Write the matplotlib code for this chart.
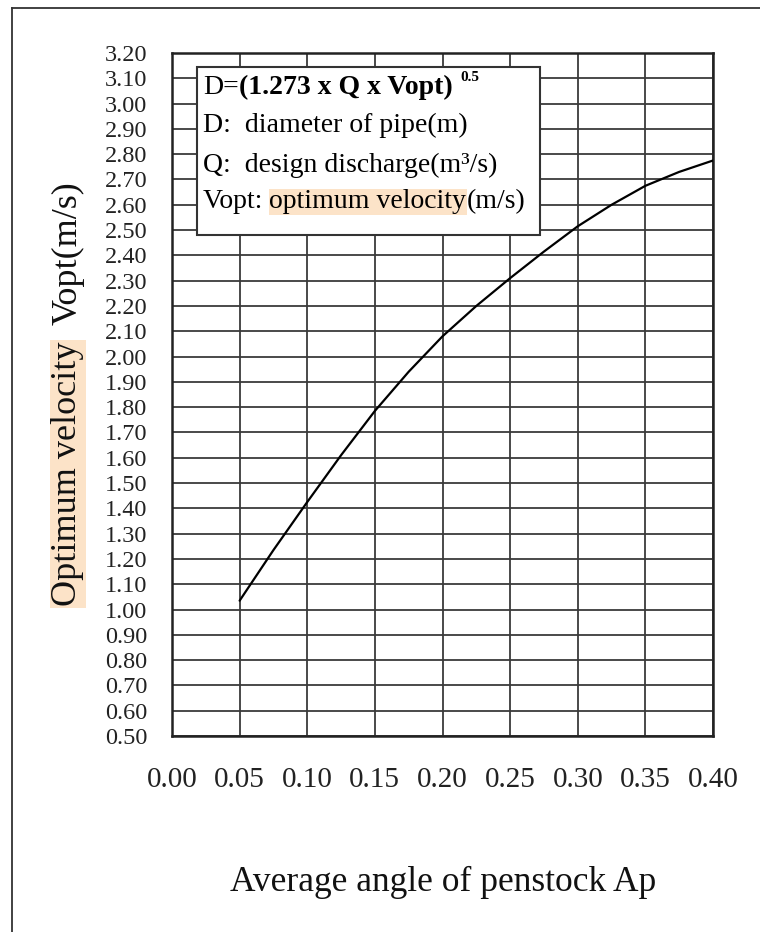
import numpy as np
import matplotlib
matplotlib.use('Agg')
import matplotlib.pyplot as plt
from matplotlib.lines import Line2D
from matplotlib.patches import Rectangle

# values
ap = [0.05, 0.075, 0.10, 0.125, 0.15, 0.175, 0.20, 0.225, 0.25,
      0.275, 0.30, 0.325, 0.35, 0.375, 0.40]
vopt = [1.035, 1.235, 1.425, 1.61, 1.785, 1.94, 2.08, 2.2, 2.31,
        2.415, 2.515, 2.6, 2.675, 2.73, 2.775]

x_ticks = [0.00, 0.05, 0.10, 0.15, 0.20, 0.25, 0.30, 0.35, 0.40]
y_ticks = [round(0.5 + 0.1 * i, 2) for i in range(28)]

formula = '(1.273 x Q x Vopt)'
legend_lines = ['D:  diameter of pipe(m)', 'Q:  design discharge(m\u00b3/s)']
x_title = 'Average angle of penstock Ap'

plt.rcParams['font.family'] = ['Liberation Serif', 'DejaVu Serif']
hl = '#fce3c8'

fig = plt.figure(figsize=(7.6, 9.32), dpi=100)
ax = fig.add_axes([172 / 760, 1 - 736 / 932, 541 / 760, 683 / 932])

ax.plot(ap, vopt, color='black', lw=1.6, zorder=3,
        solid_joinstyle='round', solid_capstyle='round')

ax.set_xlim(0, 0.40)
ax.set_ylim(0.5, 3.2)
ax.set_xticks(x_ticks)
ax.set_xticklabels(['%.2f' % v for v in x_ticks])
ax.set_yticks(y_ticks)
ax.set_yticklabels(['%.2f' % v for v in y_ticks])
ax.tick_params(axis='y', length=0, pad=18, labelsize=17.5, colors='#222222')
ax.tick_params(axis='x', length=0, pad=22, labelsize=21, colors='#222222')
ax.grid(True, color='#3a3a3a', lw=1.3)
for sp in ax.spines.values():
    sp.set_linewidth(1.8)
    sp.set_color('#222222')

# formula box
ax.add_patch(Rectangle((25 / 541, 1 - 182 / 683), 343 / 541, 168 / 683,
                       transform=ax.transAxes, fc='white', ec='#333333',
                       lw=1.5, zorder=5))
fs = 20
t0 = ax.text(31 / 541, 1 - 35 / 683, 'D=', transform=ax.transAxes,
             fontsize=fs, va='center', ha='left', zorder=6)
t1 = ax.annotate(formula, xy=(1, 0), xycoords=t0, va='bottom', ha='left',
                 fontsize=fs, fontweight='bold', zorder=6)
ax.annotate('0.5', xy=(1, 1), xycoords=t1, xytext=(6, 3),
            textcoords='offset points', va='top', ha='left',
            fontsize=11, fontweight='bold', zorder=6)
ys = [1 - 72 / 683, 1 - 112 / 683]
for yy, s in zip(ys, legend_lines):
    ax.text(31 / 541, yy, s, transform=ax.transAxes, fontsize=fs,
            va='center', ha='left', zorder=6)
t2 = ax.text(31 / 541, 1 - 149 / 683, 'Vopt: ', transform=ax.transAxes,
             fontsize=fs, va='center', ha='left', zorder=6)
t3 = ax.annotate('optimum velocity', xy=(1, 0), xycoords=t2, va='bottom',
                 ha='left', fontsize=fs, zorder=6,
                 bbox=dict(boxstyle='square,pad=0.02', fc=hl, ec='none'))
ax.annotate('(m/s)', xy=(1, 0), xycoords=t3, va='bottom', ha='left',
            fontsize=fs, zorder=6)

# axis titles
fig.text(443 / 760, 1 - 882 / 932, x_title, fontsize=25.5, ha='center',
         va='center', color='#111111')
yl = fig.text(68 / 760, 1 - 606 / 932, 'Optimum velocity', fontsize=26,
              rotation=90, ha='center', va='bottom', color='#111111',
              bbox=dict(boxstyle='square,pad=0.05', fc=hl, ec='none'))
ax.annotate('Vopt(m/s)', xy=(0.5, 1), xycoords=yl, xytext=(0, 12),
            textcoords='offset points', rotation=90, ha='center',
            va='bottom', fontsize=26, color='#111111',
            annotation_clip=False)

# outer frame (left and top edges only visible)
fig.add_artist(Line2D([12 / 760, 12 / 760], [0, 1 - 8 / 932],
                      transform=fig.transFigure, color='#333333', lw=1.3))
fig.add_artist(Line2D([12 / 760, 1], [1 - 8 / 932, 1 - 8 / 932],
                      transform=fig.transFigure, color='#333333', lw=1.3))

fig.savefig('out.png', dpi=100)
